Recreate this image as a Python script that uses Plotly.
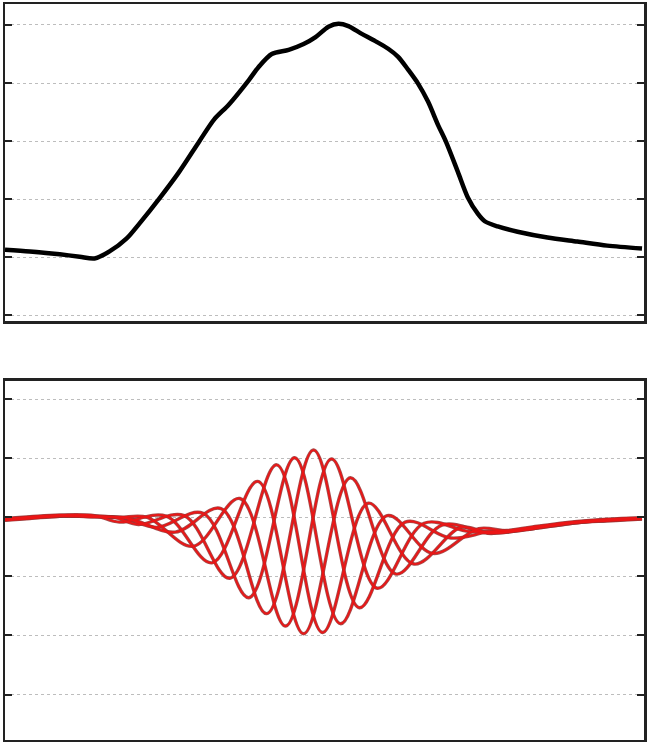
import plotly.graph_objects as go

# ---------------- data ----------------
# top panel: black curve
top_x = [0, 25, 55, 75, 90, 105, 122, 135, 155, 175, 195, 210, 225, 245, 255, 268,
         285, 300, 312, 325, 335, 345, 358, 370, 385, 395, 405, 415, 425, 435, 443,
         455, 465, 475, 482, 495, 515, 545, 575, 605, 640]
top_y = [1.13, 1.10, 1.05, 1.01, 0.98, 1.10, 1.32, 1.58, 2.01, 2.47, 2.99, 3.37, 3.63,
         4.05, 4.28, 4.50, 4.57, 4.67, 4.79, 4.97, 5.02, 4.98, 4.85, 4.74, 4.59, 4.45,
         4.23, 3.99, 3.68, 3.28, 2.99, 2.47, 2.03, 1.75, 1.62, 1.53, 1.44, 1.34, 1.27,
         1.20, 1.15]
top_ticks = [0, 1, 2, 3, 4, 5]

# bottom panel: five phase-shifted red oscillations
wave_a_x = [0, 25, 55, 90, 125, 171, 217, 263, 310, 356, 402, 448, 485, 505, 535, 575, 605, 640]
wave_a_y = [-0.03, 0.00, 0.03, 0.02, -0.02, -0.25, 0.15, -1.63, 1.14, -1.53, -0.08, -0.35,
            -0.25, -0.24, -0.17, -0.08, -0.05, -0.02]

wave_b_x = [0, 25, 55, 90, 115, 143, 189, 236, 282, 328, 374, 421, 467, 505, 535, 575, 605, 640]
wave_b_y = [-0.05, -0.02, 0.02, 0.01, 0.00, 0.00, -0.49, 0.32, -1.84, 0.99, -1.20, -0.10,
            -0.24, -0.22, -0.15, -0.07, -0.03, -0.01]

wave_c_x = [0, 25, 55, 90, 115, 162, 208, 254, 300, 347, 393, 439, 485, 505, 535, 575, 605, 640]
wave_c_y = [-0.02, 0.01, 0.04, 0.03, -0.08, 0.02, -0.77, 0.61, -1.97, 0.67, -0.96, -0.13,
            -0.27, -0.25, -0.18, -0.09, -0.06, -0.03]

wave_d_x = [0, 25, 55, 90, 110, 134, 180, 226, 273, 319, 365, 411, 458, 485, 505, 535, 575, 605, 640]
wave_d_y = [-0.04, -0.01, 0.02, 0.02, 0.00, -0.12, 0.03, -1.03, 0.89, -1.95, 0.24, -0.79,
            -0.17, -0.26, -0.25, -0.18, -0.09, -0.05, -0.02]

wave_e_x = [0, 25, 55, 90, 120, 152, 199, 245, 291, 337, 384, 430, 476, 505, 535, 575, 605, 640]
wave_e_y = [-0.03, 0.00, 0.03, 0.01, -0.01, -0.17, 0.07, -1.36, 1.01, -1.80, 0.03, -0.61,
            -0.19, -0.23, -0.16, -0.08, -0.04, -0.01]

bottom_ticks = [-3, -2, -1, 0, 1, 2]

waves = [(wave_a_x, wave_a_y), (wave_b_x, wave_b_y), (wave_c_x, wave_c_y),
         (wave_d_x, wave_d_y), (wave_e_x, wave_e_y)]

# ---------------- figure ----------------
fig = go.Figure()

fig.add_trace(go.Scatter(x=top_x, y=top_y, mode="lines",
                         line=dict(color="black", width=4.5, shape="spline", smoothing=0.8),
                         xaxis="x", yaxis="y", showlegend=False, hoverinfo="skip"))

for wx, wy in waves:
    fig.add_trace(go.Scatter(x=wx, y=wy, mode="lines",
                             line=dict(color="rgba(150,45,45,0.85)", width=3.4,
                                       shape="spline", smoothing=1),
                             xaxis="x2", yaxis="y2", showlegend=False, hoverinfo="skip"))
for wx, wy in waves:
    fig.add_trace(go.Scatter(x=wx, y=wy, mode="lines",
                             line=dict(color="rgb(235,22,22)", width=1.8,
                                       shape="spline", smoothing=1),
                             xaxis="x2", yaxis="y2", showlegend=False, hoverinfo="skip"))

xcommon = dict(range=[0, 642], showticklabels=False, ticks="", showgrid=False,
               zeroline=False, showline=True, mirror=True, linecolor="#222222",
               linewidth=2.5, fixedrange=True)
ycommon = dict(showticklabels=False, ticks="inside", ticklen=7, tickwidth=2,
               tickcolor="#222222", showgrid=True, gridcolor="#bdbdbd", griddash="dot",
               gridwidth=1, zeroline=False, showline=True, mirror="allticks",
               linecolor="#222222", linewidth=2.5, fixedrange=True)

fig.update_layout(
    width=648, height=742,
    margin=dict(l=5, r=1, t=2, b=2),
    paper_bgcolor="white", plot_bgcolor="white",
    xaxis=dict(**xcommon, anchor="y", domain=[0, 1]),
    yaxis=dict(**ycommon, anchor="x", domain=[0.5691, 1], range=[-0.10, 5.36],
               tickvals=top_ticks),
    xaxis2=dict(**xcommon, anchor="y2", domain=[0, 1]),
    yaxis2=dict(**ycommon, anchor="x2", domain=[0, 0.4878], range=[-3.77, 2.31],
                tickvals=bottom_ticks),
)

fig.write_html("out.html",
               config={"displayModeBar": False, "staticPlot": True},
               post_script="document.body.style.margin='0';document.body.style.overflow='hidden';")
